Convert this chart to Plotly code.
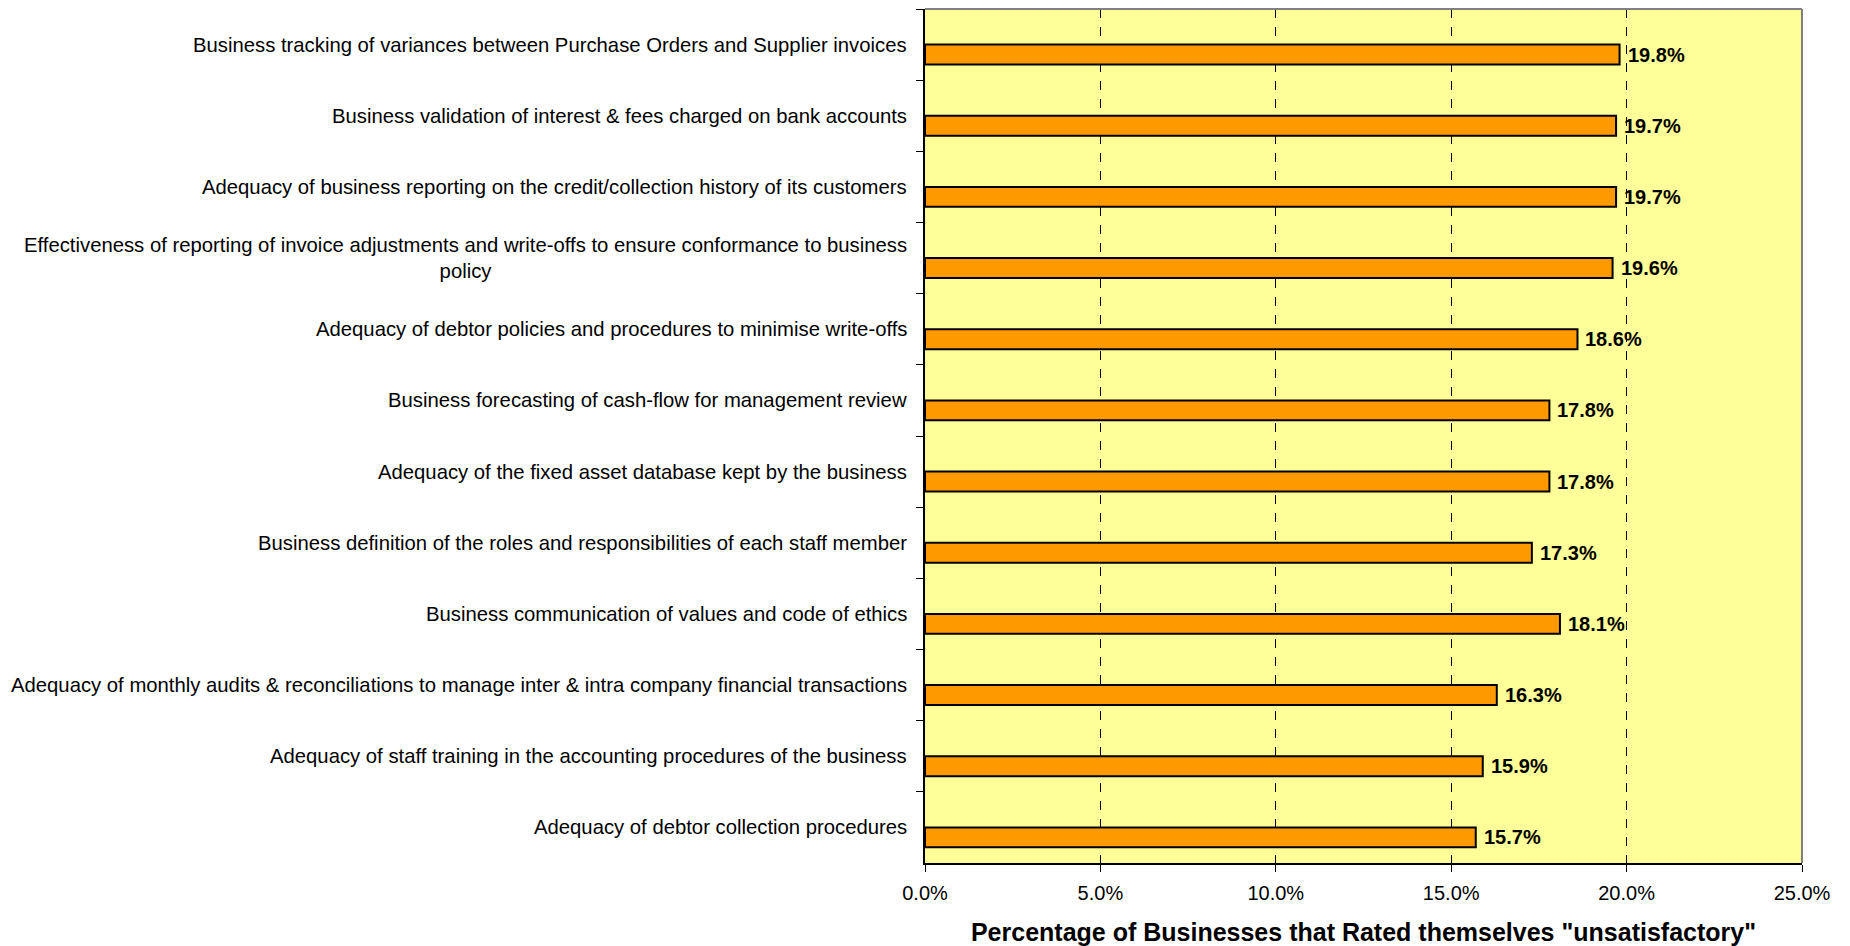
import plotly.graph_objects as go

# Survey items (top to bottom) and share of businesses rating themselves "unsatisfactory"
items = [
    "Business tracking of variances between Purchase Orders and Supplier invoices",
    "Business validation of interest & fees charged on bank accounts",
    "Adequacy of business reporting on the credit/collection history of its customers",
    "Effectiveness of reporting of invoice adjustments and write-offs to ensure conformance to business<br>policy",
    "Adequacy of debtor policies and procedures to minimise write-offs",
    "Business forecasting of cash-flow for management review",
    "Adequacy of the fixed asset database kept by the business",
    "Business definition of the roles and responsibilities of each staff member",
    "Business communication of values and code of ethics",
    "Adequacy of monthly audits & reconciliations to manage inter & intra company financial transactions",
    "Adequacy of staff training in the accounting procedures of the business",
    "Adequacy of debtor collection procedures",
]
share = [0.198, 0.197, 0.197, 0.196, 0.186, 0.178, 0.178, 0.173, 0.181, 0.163, 0.159, 0.157]

x_ticks = [0, 0.05, 0.10, 0.15, 0.20, 0.25]
x_title = 'Percentage of Businesses that Rated themselves "unsatisfactory"'

FONT = "Liberation Sans, Arial, sans-serif"

fig = go.Figure()
fig.add_trace(go.Bar(
    x=share,
    y=items,
    orientation="h",
    offset=0,
    width=0.28,
    marker=dict(color="#FF9900", line=dict(color="#000000", width=2)),
    hoverinfo="x+y",
))

# category labels to the left of the axis (wrapped label centred like the source)
for name in items:
    fig.add_annotation(
        x=0, xref="paper", y=name, yref="y",
        text=name, showarrow=False,
        xanchor="right", yanchor="middle", align="center",
        xshift=-16,
        font=dict(family=FONT, size=20.3, color="#000000"),
    )

# value labels beside each bar
for name, v in zip(items, share):
    fig.add_annotation(
        x=v, xref="x", y=name, yref="y",
        text=f"{v * 100:.1f}%", showarrow=False,
        xanchor="left", yanchor="middle",
        xshift=6, yshift=-10,
        font=dict(family=FONT, size=20, color="#000000", weight="bold"),
    )

# grey frame on top and right edges of the plot area
fig.add_shape(type="line", xref="paper", yref="paper", x0=0, x1=1, y0=1, y1=1,
              line=dict(color="#808080", width=2))
fig.add_shape(type="line", xref="paper", yref="paper", x0=1, x1=1, y0=0, y1=1,
              line=dict(color="#808080", width=2))

fig.update_layout(
    width=1850, height=946,
    margin=dict(l=925, r=48, t=9, b=83),
    paper_bgcolor="#FFFFFF",
    plot_bgcolor="#FFFF99",
    showlegend=False,
    font=dict(family=FONT, color="#000000"),
    xaxis=dict(
        range=[0, 0.25],
        automargin=False,
        tickvals=x_ticks,
        tickformat=".1%",
        showgrid=True, gridcolor="#000000", gridwidth=1, griddash="dash",
        zeroline=False,
        showline=True, linecolor="#000000", linewidth=2,
        ticks="outside", ticklen=7, tickcolor="#000000", tickwidth=1,
        ticklabelstandoff=4,
        tickfont=dict(family=FONT, size=20, color="#000000"),
        title=dict(text=x_title, standoff=20,
                   font=dict(family=FONT, size=25, color="#000000", weight="bold")),
    ),
    yaxis=dict(
        type="category",
        autorange="reversed",
        automargin=False,
        showticklabels=False,
        showgrid=False, zeroline=False,
        showline=True, linecolor="#000000", linewidth=2,
        ticks="outside", ticklen=7, tickcolor="#000000", tickwidth=1,
        tickson="boundaries",
    ),
)

fig.write_html("out.html")
